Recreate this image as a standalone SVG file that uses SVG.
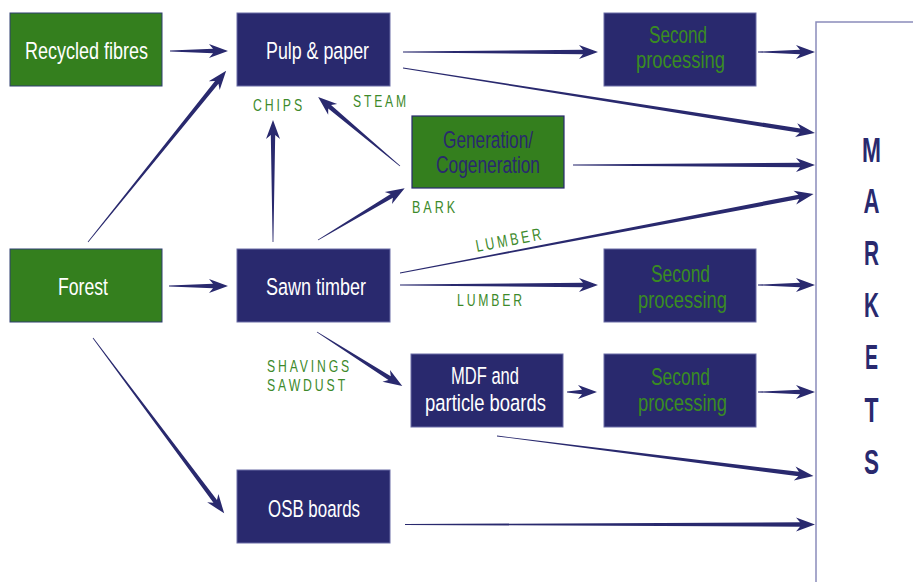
<svg xmlns="http://www.w3.org/2000/svg" width="913" height="582" viewBox="0 0 913 582">
<style>
.g{fill:#347f1e;stroke:#2e3f70;stroke-width:1}
.n{fill:#29296e;stroke:#6a6ca6;stroke-width:1}
.t{font-family:"Liberation Sans Narrow","Liberation Sans",Arial,sans-serif;font-size:24.5px;text-anchor:middle}
.w{fill:#ffffff}
.tg{fill:#3a8c22}
.tn{fill:#29296e}
.lb{font-family:"Liberation Sans Narrow","Liberation Sans",Arial,sans-serif;font-size:17px;letter-spacing:4px;fill:#3d8a2b}
.a{fill:#29296e}
.mk{font-family:"Liberation Sans Narrow","Liberation Sans",Arial,sans-serif;font-size:35px;font-weight:bold;fill:#29296e;text-anchor:middle}
</style>
<rect width="913" height="582" fill="#ffffff"/>

<g id="connectors">
<path class="a" transform="translate(170,51)" d="M0,-0.4 L43,-2.2 L39,-7 L58,0 L39,7 L43,2.2 L0,0.4Z"/>
<path class="a" transform="translate(88,242) rotate(-51.1)" d="M0,-0.4 L205,-2.2 L201,-7 L220,0 L201,7 L205,2.2 L0,0.4Z"/>
<path class="a" transform="translate(403,52)" d="M0,-0.4 L180,-2.2 L176,-7 L195,0 L176,7 L180,2.2 L0,0.4Z"/>
<path class="a" transform="translate(403,68) rotate(8.97)" d="M0,-0.4 L402,-2.2 L398,-7 L417,0 L398,7 L402,2.2 L0,0.4Z"/>
<path class="a" transform="translate(758,52)" d="M0,-0.4 L42,-2.2 L38,-7 L57,0 L38,7 L42,2.2 L0,0.4Z"/>
<path class="a" transform="translate(573,165)" d="M0,-0.4 L227,-2.2 L223,-7 L242,0 L223,7 L227,2.2 L0,0.4Z"/>
<path class="a" transform="translate(400,273) rotate(-10.8)" d="M0,-0.4 L406,-2.2 L402,-7 L421,0 L402,7 L406,2.2 L0,0.4Z"/>
<path class="a" transform="translate(400,285)" d="M0,-0.4 L183,-2.2 L179,-7 L198,0 L179,7 L183,2.2 L0,0.4Z"/>
<path class="a" transform="translate(758,285)" d="M0,-0.4 L42,-2.2 L38,-7 L57,0 L38,7 L42,2.2 L0,0.4Z"/>
<path class="a" transform="translate(273,242) rotate(-90)" d="M0,-0.4 L107,-2.2 L103,-7 L122,0 L103,7 L107,2.2 L0,0.4Z"/>
<path class="a" transform="translate(400,166) rotate(-139.9)" d="M0,-0.4 L92,-2.2 L88,-7 L107,0 L88,7 L92,2.2 L0,0.4Z"/>
<path class="a" transform="translate(318,240) rotate(-30.9)" d="M0,-0.4 L86,-2.2 L82,-7 L101,0 L82,7 L86,2.2 L0,0.4Z"/>
<path class="a" transform="translate(169,286)" d="M0,-0.4 L44,-2.2 L40,-7 L59,0 L40,7 L44,2.2 L0,0.4Z"/>
<path class="a" transform="translate(317,332) rotate(32.4)" d="M0,-0.4 L86,-2.2 L82,-7 L101,0 L82,7 L86,2.2 L0,0.4Z"/>
<path class="a" transform="translate(567,392)" d="M0,-0.4 L15,-2.2 L11,-7 L30,0 L11,7 L15,2.2 L0,0.4Z"/>
<path class="a" transform="translate(758,392)" d="M0,-0.4 L42,-2.2 L38,-7 L57,0 L38,7 L42,2.2 L0,0.4Z"/>
<path class="a" transform="translate(497,436) rotate(7.19)" d="M0,-0.4 L304,-2.2 L300,-7 L319,0 L300,7 L304,2.2 L0,0.4Z"/>
<path class="a" transform="translate(93,338) rotate(53.2)" d="M0,-0.4 L204,-2.2 L200,-7 L219,0 L200,7 L204,2.2 L0,0.4Z"/>
<path class="a" transform="translate(405,524.5)" d="M0,-0.4 L395,-2.2 L391,-7 L410,0 L391,7 L395,2.2 L0,0.4Z"/>
</g>

<g id="labels">
<text class="lb" x="253" y="111" textLength="52" lengthAdjust="spacingAndGlyphs">CHIPS</text>
<text class="lb" x="353" y="107" textLength="56" lengthAdjust="spacingAndGlyphs">STEAM</text>
<text class="lb" x="412" y="213" textLength="46" lengthAdjust="spacingAndGlyphs">BARK</text>
<text class="lb" transform="translate(477,252) rotate(-10.8)" x="0" y="0" textLength="69" lengthAdjust="spacingAndGlyphs">LUMBER</text>
<text class="lb" x="457" y="306" textLength="68" lengthAdjust="spacingAndGlyphs">LUMBER</text>
<text class="lb" x="267" y="372" textLength="85" lengthAdjust="spacingAndGlyphs">SHAVINGS</text>
<text class="lb" x="267" y="391" textLength="81" lengthAdjust="spacingAndGlyphs">SAWDUST</text>
</g>

<g id="recycled-fibres">
<rect class="g" x="10" y="13" width="152" height="73"/>
<text class="t w" x="86.5" y="59" textLength="123" lengthAdjust="spacingAndGlyphs">Recycled fibres</text>
</g>
<g id="pulp-paper">
<rect class="n" x="237" y="13" width="153" height="73"/>
<text class="t w" x="317.5" y="59" textLength="103" lengthAdjust="spacingAndGlyphs">Pulp &amp; paper</text>
</g>
<g id="generation">
<rect x="412" y="116" width="152" height="72" fill="#347f1e" stroke="#29296e" stroke-width="1.2"/>
<text class="t tn" x="488" y="148" textLength="90" lengthAdjust="spacingAndGlyphs">Generation/</text>
<text class="t tn" x="488" y="173" textLength="104" lengthAdjust="spacingAndGlyphs">Cogeneration</text>
</g>
<g id="second-processing-1">
<rect class="n" x="604" y="13" width="152" height="73"/>
<text class="t tg" x="678" y="43" textLength="58" lengthAdjust="spacingAndGlyphs">Second</text>
<text class="t tg" x="680.5" y="68" textLength="89" lengthAdjust="spacingAndGlyphs">processing</text>
</g>
<g id="forest">
<rect class="g" x="10" y="249" width="152" height="73"/>
<text class="t w" x="83" y="295" textLength="50" lengthAdjust="spacingAndGlyphs">Forest</text>
</g>
<g id="sawn-timber">
<rect class="n" x="237" y="249" width="153" height="73"/>
<text class="t w" x="316" y="295" textLength="100" lengthAdjust="spacingAndGlyphs">Sawn timber</text>
</g>
<g id="second-processing-2">
<rect class="n" x="604" y="249" width="152" height="73"/>
<text class="t tg" x="680.5" y="282" textLength="59" lengthAdjust="spacingAndGlyphs">Second</text>
<text class="t tg" x="682.5" y="308" textLength="89" lengthAdjust="spacingAndGlyphs">processing</text>
</g>
<g id="mdf">
<rect class="n" x="411" y="354" width="152" height="73"/>
<text class="t w" x="485" y="384" textLength="68" lengthAdjust="spacingAndGlyphs">MDF and</text>
<text class="t w" x="485.5" y="411" textLength="121" lengthAdjust="spacingAndGlyphs">particle boards</text>
</g>
<g id="second-processing-3">
<rect class="n" x="604" y="354" width="152" height="73"/>
<text class="t tg" x="680.5" y="385" textLength="59" lengthAdjust="spacingAndGlyphs">Second</text>
<text class="t tg" x="682.5" y="411" textLength="89" lengthAdjust="spacingAndGlyphs">processing</text>
</g>
<g id="osb-boards">
<rect class="n" x="237" y="470" width="153" height="73"/>
<text class="t w" x="314" y="517" textLength="92" lengthAdjust="spacingAndGlyphs">OSB boards</text>
</g>
<g id="markets">
<path d="M913,22 H816 V582" fill="none" stroke="#8a8cba" stroke-width="1.5"/>
<text class="mk" x="871.5" y="162" textLength="19" lengthAdjust="spacingAndGlyphs">M</text>
<text class="mk" x="871.5" y="213" textLength="16" lengthAdjust="spacingAndGlyphs">A</text>
<text class="mk" x="871.5" y="265" textLength="15" lengthAdjust="spacingAndGlyphs">R</text>
<text class="mk" x="871.5" y="317" textLength="15" lengthAdjust="spacingAndGlyphs">K</text>
<text class="mk" x="871.5" y="369" textLength="13" lengthAdjust="spacingAndGlyphs">E</text>
<text class="mk" x="871.5" y="422" textLength="14" lengthAdjust="spacingAndGlyphs">T</text>
<text class="mk" x="871.5" y="474" textLength="15" lengthAdjust="spacingAndGlyphs">S</text>
</g>
</svg>
